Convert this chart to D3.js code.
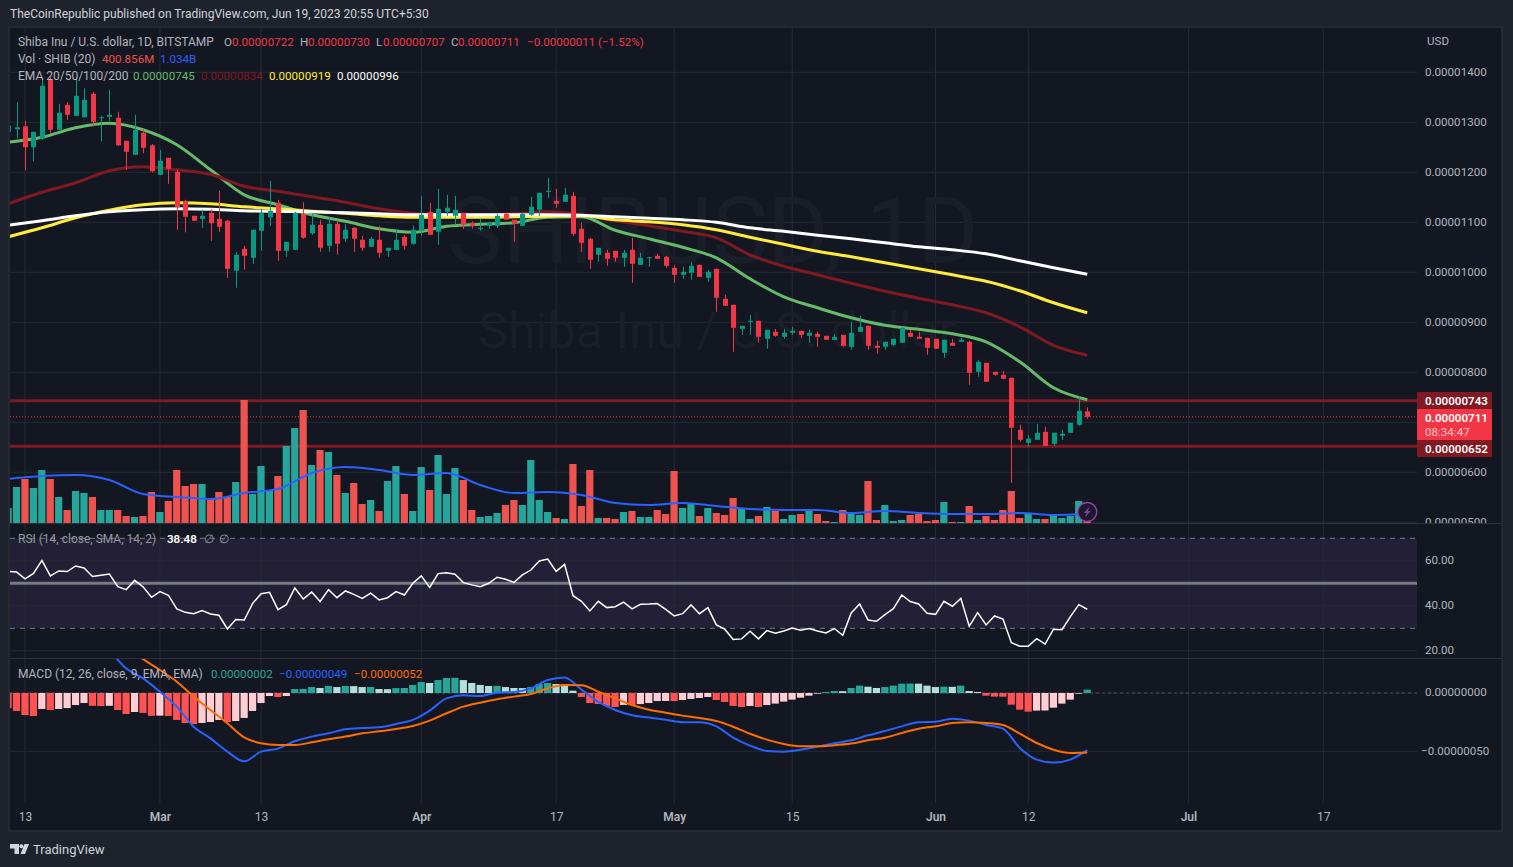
<!DOCTYPE html>
<html>
<head>
<meta charset="utf-8">
<script src="https://cdn.jsdelivr.net/npm/d3@7"></script>
<style>
  html, body { margin: 0; padding: 0; background: #1e222d; overflow: hidden; }
  text { font-family: Roboto, sans-serif; font-size: 11.6px; }
  .domain { display: none; }
</style>
</head>
<body>
<svg id="chart" width="1513" height="867"></svg>
<script>
// prices are in units of 0.00000001 USD, one value per day from Feb 11 2023
const opens = [
  1281,1286,1292,1250,1267,1385,1285,1335,1313,1310,
  1357,1308,1311,1309,1263,1235,1279,1254,1195,1229,
  1201,1143,1113,1107,1119,1107,1103,1003,1047,1029,
  1083,1110,1139,1043,1045,1117,1078,1095,1053,1097,
  1067,1089,1065,1051,1065,1043,1045,1071,1057,1083,
  1121,1081,1121,1113,1119,1099,1087,1093,1093,1117,
  1105,1093,1115,1125,1161,1143,1141,1153,1087,1067,
  1035,1039,1043,1029,1045,1015,1028,1033,1031,1009,
  995,999,1015,989,1007,947,935,887,901,903,
  867,881,871,879,883,873,877,873,865,875,
  851,881,893,853,851,855,859,879,871,869,
  867,839,859,861,861,801,819,801,795,789,
  685,659,665,681,657,673,679,695,722];
const highs = [
  1297,1340,1303,1281,1388,1393,1337,1340,1389,1368,
  1361,1313,1365,1321,1263,1315,1287,1256,1245,1229,
  1205,1145,1113,1125,1126,1163,1105,1040,1053,1085,
  1127,1183,1145,1061,1121,1140,1118,1105,1111,1101,
  1097,1090,1073,1071,1093,1049,1086,1075,1093,1153,
  1139,1167,1155,1153,1119,1102,1107,1101,1117,1119,
  1105,1119,1151,1159,1189,1167,1169,1161,1100,1069,
  1049,1045,1043,1045,1069,1039,1031,1037,1033,1015,
  1011,1021,1015,1005,1007,955,935,893,915,903,
  885,887,887,891,883,885,881,873,877,875,
  901,913,893,863,861,867,891,885,881,869,
  867,865,867,869,863,825,819,801,803,789,
  695,675,697,691,679,685,699,751,730];
const lows = [
  1277,1268,1204,1222,1265,1277,1285,1305,1313,1310,
  1292,1262,1303,1253,1205,1235,1238,1200,1195,1177,
  1085,1080,1103,1089,1063,1081,989,969,1005,1017,
  1043,1093,1023,1031,1045,1067,1075,1041,1041,1035,
  1061,1041,1043,1051,1029,1031,1045,1045,1055,1073,
  1075,1055,1113,1095,1087,1087,1083,1087,1089,1105,
  1061,1093,1113,1113,1149,1129,1141,1073,1041,1007,
  1021,1013,1021,1011,979,1015,1011,1027,1009,979,
  987,985,991,981,921,933,841,875,875,859,
  847,871,867,875,869,859,851,865,865,851,
  845,881,845,837,845,853,859,871,867,835,
  847,829,853,861,775,791,781,793,787,579,
  661,651,665,653,653,665,679,693,707];
const closes = [
  1293,1290,1250,1281,1373,1285,1319,1315,1353,1345,
  1301,1310,1315,1254,1241,1285,1249,1202,1223,1207,
  1130,1111,1103,1113,1098,1091,1007,1035,1033,1085,
  1118,1123,1043,1061,1119,1069,1095,1049,1097,1057,
  1085,1067,1049,1067,1039,1049,1065,1053,1085,1115,
  1075,1127,1129,1125,1095,1093,1089,1099,1113,1105,
  1097,1117,1131,1159,1163,1137,1155,1077,1059,1025,
  1049,1027,1029,1039,1017,1029,1030,1027,1013,995,
  1001,1013,991,1001,949,933,889,893,903,871,
  885,873,879,883,875,879,871,865,871,853,
  879,891,853,849,861,867,889,871,867,849,
  847,865,853,865,799,821,781,795,787,689,
  665,667,679,653,679,677,699,723,711];

// volume in billions of SHIB
const volumes = [
  1.6,3.7,4.5,3.6,5.4,4.5,2.7,1.4,3.3,3.1,
  2.7,1.4,1.4,1.4,0.8,0.7,0.8,3.2,1.2,2.3,
  5.4,3.8,4.0,4.0,2.4,3.2,2.7,4.2,12.4,3.0,
  5.8,3.4,4.8,7.8,9.6,11.4,5.9,7.4,7.2,4.9,
  3.1,4.1,2.0,2.4,1.3,4.3,5.8,3.0,1.3,5.7,
  3.4,6.9,3.0,5.6,4.4,1.4,0.7,0.8,1.1,1.9,
  2.4,1.9,6.4,2.4,1.2,0.6,0.5,6.0,1.8,5.4,
  0.6,0.6,0.5,1.2,1.3,0.7,0.7,1.4,1.0,5.3,
  1.6,2.1,0.8,1.6,1.1,0.9,2.6,1.5,0.5,0.8,
  1.7,1.3,0.5,0.9,1.0,1.3,1.0,0.3,0.2,1.4,
  1.1,0.9,4.3,0.4,1.9,0.3,0.4,0.9,1.0,0.3,
  0.4,2.2,0.2,0.2,1.8,0.4,0.8,0.4,1.4,3.3,
  0.6,1.0,0.5,0.5,0.8,0.6,0.8,2.3,0.4];

const ema20 = [1260,1270,1289,1298,1285,1255,1205,1155,1135,1115,1102,1087,1080,1092,1096,1099,1110,1111,1084,1067,1050,1029,987,951,929,909,894,886,877,861,821,769,745];
const ema50 = [1137,1160,1179,1203,1211,1205,1196,1172,1162,1151,1140,1127,1118,1115,1115,1117,1121,1115,1103,1093,1082,1069,1035,1012,995,978,962,948,935,919,891,854,834];
const ema100 = [1071,1089,1109,1124,1135,1139,1137,1131,1127,1122,1118,1113,1110,1110,1110,1111,1112,1113,1105,1101,1095,1085,1070,1056,1042,1031,1019,1007,995,982,963,939,919];
const ema200 = [1094,1103,1113,1121,1125,1127,1126,1123,1122,1121,1119,1117,1115,1115,1115,1115,1115,1114,1111,1108,1105,1100,1089,1082,1074,1067,1059,1051,1045,1037,1023,1009,996];
const volumeMa = [4.5,4.8,4.9,4.4,3.0,2.7,2.5,3.1,3.5,5.1,5.7,5.4,4.9,5.1,3.9,3.1,3.2,2.9,2.1,1.9,2.1,1.8,1.5,1.4,1.4,1.1,1.3,1.1,1.0,1.0,1.1,0.9,1.03];
const sparseDays = d3.range(0, 129, 4);

const rsi = [
  55.3,55,52,54.4,60.2,53.3,55.5,55.2,57.7,56.8,
  53,53.6,54.1,48.5,47.2,51.3,48.4,43.8,46.3,44.7,
  38.6,37.1,36.5,37.9,36.4,35.8,29.7,33.9,33.7,41.1,
  45.4,46,38.3,40.5,47.9,43,46.1,41.9,47.2,43.6,
  46.6,45.1,43.3,45.6,42.6,43.6,46.3,44.8,50,53.3,
  48.2,54.3,54.7,54,50.3,49.3,48.5,50,52.7,51.8,
  50.4,53.7,55.9,59.9,60.8,55.3,58.4,44.5,42,37.7,
  42,39.2,39.6,41.6,38.6,40.7,40.8,41,38.4,35.5,
  36.5,40.4,36.5,39.2,31.5,29.6,25,25.3,28.7,25.3,
  29,27.8,28.8,30.1,29.1,29.9,28.8,27.9,29.9,26.9,
  36.8,40.8,33.7,33.1,36.1,38.7,44.8,41.9,40.8,36.7,
  36.2,42,39.8,43.3,30.9,37,31.5,35.5,34.1,23.6,
  22,22,25.4,23,29.6,29.4,35.2,40.5,38.48];

const macdHist = [
  -12.9,-15.4,-18.9,-19.7,-13.7,-14.6,-13.7,-12.9,-10.3,-8.6,
  -11,-11.2,-11,-14.6,-18,-16.3,-17.1,-19.6,-19.4,-19.7,
  -23.1,-25.7,-26.6,-25.7,-24.9,-23.1,-24.9,-24,-21.4,-15.4,
  -8.6,-2.6,-3.4,-2.6,3.4,3.5,5.1,4.3,6,5.1,
  6,5.9,5.1,5.2,3.4,3.3,4.2,4.3,6.9,9.4,
  8.6,11.1,12.9,13,11.1,8.6,6.9,6,6.1,5.1,
  4.3,4.2,5.1,7.7,8.6,7.7,7.6,2,-3.4,-8.6,
  -9.4,-11.1,-12,-10.2,-10.4,-9.5,-8.6,-6.9,-6.8,-6.9,
  -6,-5.1,-4.3,-3.4,-6,-7.7,-11.1,-12,-11.1,-12,
  -10.3,-9.1,-7.4,-5.7,-4,-2.3,-0.6,0.9,1.7,1.6,
  4.3,6.3,5.4,4.3,5.1,6.3,8,8.1,8,6.3,
  5.1,5.4,5.3,6.3,1.7,0.9,-2.3,-3.1,-3.2,-10,
  -14.3,-16,-15.1,-15,-12.6,-9.1,-5.7,-0.6,2.9];

const macdLine = [37,21,12.6,1.1,-11.7,-28.9,-38.9,-50.3,-58.6,-50.3,-47.7,-41.4,-37.4,-34.6,-31.1,-30,-29.4,-26.6,-23.1,-15.1,-4.6,-2,-2.6,0.3,0.9,4,11.1,13.4,2.9,-7.7,-14.6,-19.1,-21.1,-22.9,-25.1,-25.1,-28.6,-38.3,-45.1,-49.7,-50.3,-48.6,-46,-43.1,-40.6,-36.3,-32.6,-28.6,-25.1,-24.6,-22,-23.7,-27.4,-30.6,-47.1,-57.1,-59.7,-57.1,-49];
const signalLine = [48,38,29,19.7,9.7,-3.1,-14.6,-26,-38,-43.1,-44.6,-44.6,-42.3,-39.7,-37.4,-34.6,-32.9,-30.9,-28.3,-23.7,-17.4,-11.7,-8.3,-5.4,-3.1,-0.9,4,6.9,6.6,1.1,-4.6,-10.3,-14.3,-16.9,-19.4,-21.4,-24,-28.9,-34.9,-40,-43.7,-45.7,-45.7,-44.9,-43.4,-40.6,-38.3,-34.3,-30.6,-28.6,-25.7,-25.1,-25.7,-27.4,-34.9,-42.9,-48.6,-51.4,-51];
const macdDays = d3.range(12, 129, 2);

const priceTicks = [1400, 1300, 1200, 1100, 1000, 900, 800, 700, 600, 500];
const rsiTicks = [60, 40, 20];
const macdTicks = [0, -50];
const levels = [743, 652];
const lastPrice = 711;
const dateTicks = [
  [2023, 1, 13, "13"], [2023, 2, 1, "Mar"], [2023, 2, 13, "13"], [2023, 3, 1, "Apr"],
  [2023, 3, 17, "17"], [2023, 4, 1, "May"], [2023, 4, 15, "15"], [2023, 5, 1, "Jun"],
  [2023, 5, 12, "12"], [2023, 6, 1, "Jul"], [2023, 6, 17, "17"]
];

const upColor = "#089981", downColor = "#f23645";
const upVol = "#26a69a", downVol = "#ef5350";
const gridColor = "#262a36", paneLine = "#2c303c", axisText = "#b2b5be";
const left = 10, right = 1417, frameRight = 1502;
const mainTop = 28, mainBottom = 523, rsiBottom = 658, macdBottom = 803, frameBottom = 831;

const svg = d3.select("#chart");
const day0 = Date.UTC(2023, 1, 11);
const dayDate = i => new Date(day0 + i * 864e5);

const x = d3.scaleUtc().domain([dayDate(0), new Date(Date.UTC(2023, 6, 17))]).range([8.2, 1323.3]);
const xDay = i => x(dayDate(i));
const yPrice = d3.scaleLinear().domain([1400, 500]).range([72.3, 522.3]);
const yVol = d3.scaleLinear().domain([0, 12.4]).range([524, 400]);
const yRsi = d3.scaleLinear().domain([70, 30]).range([538.3, 628.3]);
const yMacd = d3.scaleLinear().domain([0, -50]).range([693, 751.3]);

const fmtPrice = v => (v / 1e8).toFixed(8);
const fmtMacd = v => (v < 0 ? "\u2212" : "") + (Math.abs(v) / 1e8).toFixed(8);

// frame and panes
svg.append("rect").attr("width", 1513).attr("height", 867).attr("fill", "#1e222d");
svg.append("rect").attr("x", 9).attr("y", 27).attr("width", frameRight - 9).attr("height", frameBottom - 27)
  .attr("fill", "#131722").attr("stroke", "#2a2e39").attr("stroke-width", 1.5);

const defs = svg.append("defs");
function clip(id, x0, y0, x1, y1) {
  defs.append("clipPath").attr("id", id).append("rect")
    .attr("x", x0).attr("y", y0).attr("width", x1 - x0).attr("height", y1 - y0);
}
clip("main", left, mainTop, right, mainBottom);
clip("rsi", left, mainBottom + 1, right, rsiBottom);
clip("macd", left, rsiBottom + 1, right, macdBottom);
clip("priceAxis", right, mainTop, frameRight, mainBottom);

// rsi band goes under the grid of its pane
svg.append("rect").attr("x", left).attr("width", right - left)
  .attr("y", yRsi(70)).attr("height", yRsi(30) - yRsi(70)).attr("fill", "#221f36");

// vertical grid, through all three panes
svg.append("g").selectAll("line").data(dateTicks).enter().append("line")
  .attr("x1", d => x(new Date(Date.UTC(d[0], d[1], d[2]))))
  .attr("x2", d => x(new Date(Date.UTC(d[0], d[1], d[2]))))
  .attr("y1", mainTop).attr("y2", macdBottom)
  .attr("stroke", gridColor);

const rsiG = svg.append("g").attr("clip-path", "url(#rsi)");

function hGrid(g, ticks, scale) {
  g.append("g").selectAll("line").data(ticks).enter().append("line")
    .attr("x1", left).attr("x2", right)
    .attr("y1", d => scale(d)).attr("y2", d => scale(d))
    .attr("stroke", gridColor);
}

// main pane
const mainG = svg.append("g").attr("clip-path", "url(#main)");
hGrid(mainG, priceTicks, yPrice);

mainG.append("text").attr("x", 713).attr("y", 263).attr("text-anchor", "middle")
  .style("font-size", "93px").attr("fill", "#1a1e29").text("SHIBUSD, 1D");
mainG.append("text").attr("x", 717).attr("y", 348).attr("text-anchor", "middle")
  .style("font-size", "50px").attr("fill", "#1a1e29").text("Shiba Inu / U.S. dollar");

mainG.selectAll(".level").data(levels).enter().append("line").attr("class", "level")
  .attr("x1", left).attr("x2", right)
  .attr("y1", d => yPrice(d)).attr("y2", d => yPrice(d))
  .attr("stroke", "#801922").attr("stroke-width", 3);
mainG.append("line").attr("x1", left).attr("x2", right)
  .attr("y1", yPrice(lastPrice)).attr("y2", yPrice(lastPrice))
  .attr("stroke", downColor).attr("stroke-dasharray", "1 2");

mainG.selectAll(".vol").data(volumes).enter().append("rect").attr("class", "vol")
  .attr("x", (d, i) => xDay(i) - 3.7).attr("width", 7.2)
  .attr("y", d => yVol(d)).attr("height", d => yVol(0) - yVol(d))
  .attr("fill", (d, i) => closes[i] >= opens[i] ? upVol : downVol);

const sparseLine = (scale) => d3.line()
  .x((d, i) => xDay(sparseDays[i])).y(d => scale(d)).curve(d3.curveMonotoneX);

mainG.append("path").attr("d", sparseLine(yVol)(volumeMa))
  .attr("fill", "none").attr("stroke", "#2962ff").attr("stroke-width", 2);

[[ema20, "#66bb6a"], [ema50, "#801922"], [ema100, "#ffeb3b"], [ema200, "#ffffff"]].forEach(s => {
  mainG.append("path").attr("d", sparseLine(yPrice)(s[0]))
    .attr("fill", "none").attr("stroke", s[1]).attr("stroke-width", 3);
});

const candle = mainG.selectAll(".candle").data(opens).enter().append("g").attr("class", "candle")
  .attr("fill", (d, i) => closes[i] >= d ? upColor : downColor)
  .attr("stroke", (d, i) => closes[i] >= d ? upColor : downColor);
candle.append("line")
  .attr("x1", (d, i) => Math.round(xDay(i)) + 0.5).attr("x2", (d, i) => Math.round(xDay(i)) + 0.5)
  .attr("y1", (d, i) => yPrice(highs[i])).attr("y2", (d, i) => yPrice(lows[i]));
candle.append("rect").attr("stroke", "none")
  .attr("x", (d, i) => Math.round(xDay(i)) - 2).attr("width", 5)
  .attr("y", (d, i) => yPrice(Math.max(d, closes[i])))
  .attr("height", (d, i) => Math.max(1, Math.abs(yPrice(d) - yPrice(closes[i]))));

// bolt badge on the last bar
const badge = svg.append("g").attr("transform", `translate(${xDay(128)},512)`);
badge.append("circle").attr("r", 9.5).attr("fill", "#1a1a2c").attr("stroke", "#9c3fb5").attr("stroke-width", 1.4);
badge.append("path").attr("d", "M2.5,-5.5 L-3.5,1 L-0.5,1 L-2.5,5.5 L3.5,-1 L0.5,-1 Z").attr("fill", "#8e3aa8");

// rsi pane
hGrid(rsiG, rsiTicks, yRsi);
rsiG.selectAll(".band").data([70, 30]).enter().append("line").attr("class", "band")
  .attr("x1", left).attr("x2", right)
  .attr("y1", d => yRsi(d)).attr("y2", d => yRsi(d))
  .attr("stroke", "#787b86").attr("stroke-dasharray", "5 5");
rsiG.append("line").attr("x1", left).attr("x2", right)
  .attr("y1", yRsi(50)).attr("y2", yRsi(50))
  .attr("stroke", "#787b86").attr("stroke-width", 3);
rsiG.append("path").attr("d", d3.line().x((d, i) => xDay(i)).y(d => yRsi(d))(rsi))
  .attr("fill", "none").attr("stroke", "#ffffff").attr("stroke-width", 1.5);

// macd pane
const macdG = svg.append("g").attr("clip-path", "url(#macd)");
hGrid(macdG, macdTicks, yMacd);
macdG.append("line").attr("x1", left).attr("x2", right)
  .attr("y1", yMacd(0)).attr("y2", yMacd(0))
  .attr("stroke", "#4a4e5a").attr("stroke-dasharray", "3 3");

function histColor(d, i) {
  const rising = i > 0 && d > macdHist[i - 1];
  if (d >= 0) return rising ? "#26a69a" : "#b2dfdb";
  return rising ? "#ffcdd2" : "#ff5252";
}
macdG.selectAll(".hist").data(macdHist).enter().append("rect").attr("class", "hist")
  .attr("x", (d, i) => xDay(i) - 3.7).attr("width", 7.2)
  .attr("y", d => Math.min(yMacd(d), yMacd(0)))
  .attr("height", d => Math.abs(yMacd(d) - yMacd(0)))
  .attr("fill", histColor);

const macdPath = d3.line().x((d, i) => xDay(macdDays[i])).y(d => yMacd(d)).curve(d3.curveMonotoneX);
macdG.append("path").attr("d", macdPath(macdLine)).attr("fill", "none").attr("stroke", "#2962ff").attr("stroke-width", 2);
macdG.append("path").attr("d", macdPath(signalLine)).attr("fill", "none").attr("stroke", "#ff6d00").attr("stroke-width", 2);

// pane separators
svg.selectAll(".sep").data([mainBottom + 0.5, rsiBottom + 0.5]).enter().append("line").attr("class", "sep")
  .attr("x1", left).attr("x2", frameRight)
  .attr("y1", d => d).attr("y2", d => d)
  .attr("stroke", paneLine);

// axes
const priceAxis = d3.axisRight(yPrice).tickValues(priceTicks.filter(d => d !== 700)).tickSize(0).tickPadding(8).tickFormat(fmtPrice);
svg.append("g").attr("clip-path", "url(#priceAxis)")
  .append("g").attr("transform", `translate(${right},-1)`).call(priceAxis)
  .selectAll("text").attr("fill", axisText);

const rsiAxis = d3.axisRight(yRsi).tickValues(rsiTicks).tickSize(0).tickPadding(8).tickFormat(d => d.toFixed(2));
svg.append("g").attr("transform", `translate(${right},-1)`).call(rsiAxis)
  .selectAll("text").attr("fill", axisText);

const macdAxis = d3.axisRight(yMacd).tickValues(macdTicks).tickSize(0).tickPadding(4).tickFormat(fmtMacd);
const macdAxisG = svg.append("g").attr("transform", `translate(${right},-1)`).call(macdAxis);
macdAxisG.selectAll("text").attr("fill", axisText);
macdAxisG.selectAll(".tick").filter(d => d === 0).select("text").attr("x", 8);

const timeAxis = d3.axisBottom(x)
  .tickValues(dateTicks.map(d => new Date(Date.UTC(d[0], d[1], d[2]))))
  .tickSize(0).tickPadding(9)
  .tickFormat((d, i) => dateTicks[i][3]);
svg.append("g").attr("transform", `translate(0,${macdBottom})`).call(timeAxis)
  .selectAll("text").attr("fill", axisText).style("font-size", "12px")
  .attr("font-weight", (d, i) => isNaN(+dateTicks[i][3]) ? 600 : 400);

svg.append("text").attr("x", 1427).attr("y", 45).attr("fill", axisText).text("USD");

// price tags
const tags = [
  { y0: 392, y1: 409, fill: "#801922", label: fmtPrice(743), ty: 404.5 },
  { y0: 440, y1: 457, fill: "#801922", label: fmtPrice(652), ty: 452.5 }
];
tags.forEach(t => {
  svg.append("rect").attr("x", right).attr("y", t.y0).attr("width", 75).attr("height", t.y1 - t.y0).attr("fill", t.fill).attr("rx", 1);
  svg.append("text").attr("x", 1425).attr("y", t.ty).attr("fill", "#ffffff").attr("font-weight", 600).text(t.label);
});
svg.append("rect").attr("x", right).attr("y", 409).attr("width", 75).attr("height", 31).attr("fill", downColor);
svg.append("text").attr("x", 1425).attr("y", 421.5).attr("fill", "#ffffff").attr("font-weight", 600).text(fmtPrice(lastPrice));
svg.append("text").attr("x", 1425).attr("y", 436).attr("fill", "#fcc5ca").text("08:34:47");

// text legends, each part has its own start; the names run a bit larger than the numbers
function legend(y, parts) {
  const t = svg.append("text").attr("y", y);
  parts.forEach((p, i) => t.append("tspan").attr("x", p[2]).attr("fill", p[1]).attr("font-weight", p[3] || 400)
    .style("font-size", i === 0 ? "12px" : null).text(p[0]));
}
const grey = "#b2b5be", dim = "#9598a1";
legend(18, [["TheCoinRepublic published on TradingView.com, Jun 19, 2023 20:55 UTC+5:30", "#d1d4dc", 10]]);
legend(46, [
  ["Shiba Inu / U.S. dollar, 1D, BITSTAMP", grey, 18], ["O", grey, 224], [fmtPrice(722), downColor, 232], ["H", grey, 300], [fmtPrice(730), downColor, 308],
  ["L", grey, 376], [fmtPrice(707), downColor, 383], ["C", grey, 451], [fmtPrice(711), downColor, 458],
  ["\u22120.00000011", downColor, 527], ["(\u22121.52%)", downColor, 598]
]);
legend(63, [["Vol \u00b7 SHIB (20)", grey, 18], ["400.856M", downVol, 102], ["1.034B", "#2962ff", 160]]);
legend(80, [
  ["EMA 20/50/100/200", grey, 18], [fmtPrice(745), "#66bb6a", 133], [fmtPrice(834), "#801922", 201],
  [fmtPrice(919), "#ffeb3b", 269], [fmtPrice(996), "#ffffff", 337]
]);
legend(543, [["RSI (14, close, SMA, 14, 2)", dim, 18], ["38.48", "#ffffff", 167, 600], ["\u2205", dim, 204], ["\u2205", dim, 219]]);
legend(678, [
  ["MACD (12, 26, close, 9, EMA, EMA)", grey, 18], [fmtPrice(2), "#26a69a", 211],
  [fmtMacd(-49), "#2962ff", 279], [fmtMacd(-52), "#ff6d00", 354]
]);

// tradingview mark
svg.append("path").attr("fill", "#d1d4dc")
  .attr("d", "M10,844 h9 v10 h-4.5 v-5.5 h-4.5 Z M29,844 l-4,10 h-4.5 l4,-10 Z");
svg.append("circle").attr("cx", 21.4).attr("cy", 846.2).attr("r", 2).attr("fill", "#d1d4dc");
svg.append("text").attr("x", 33).attr("y", 854).attr("fill", "#d1d4dc").style("font-size", "13px").text("TradingView");
</script>
</body>
</html>
